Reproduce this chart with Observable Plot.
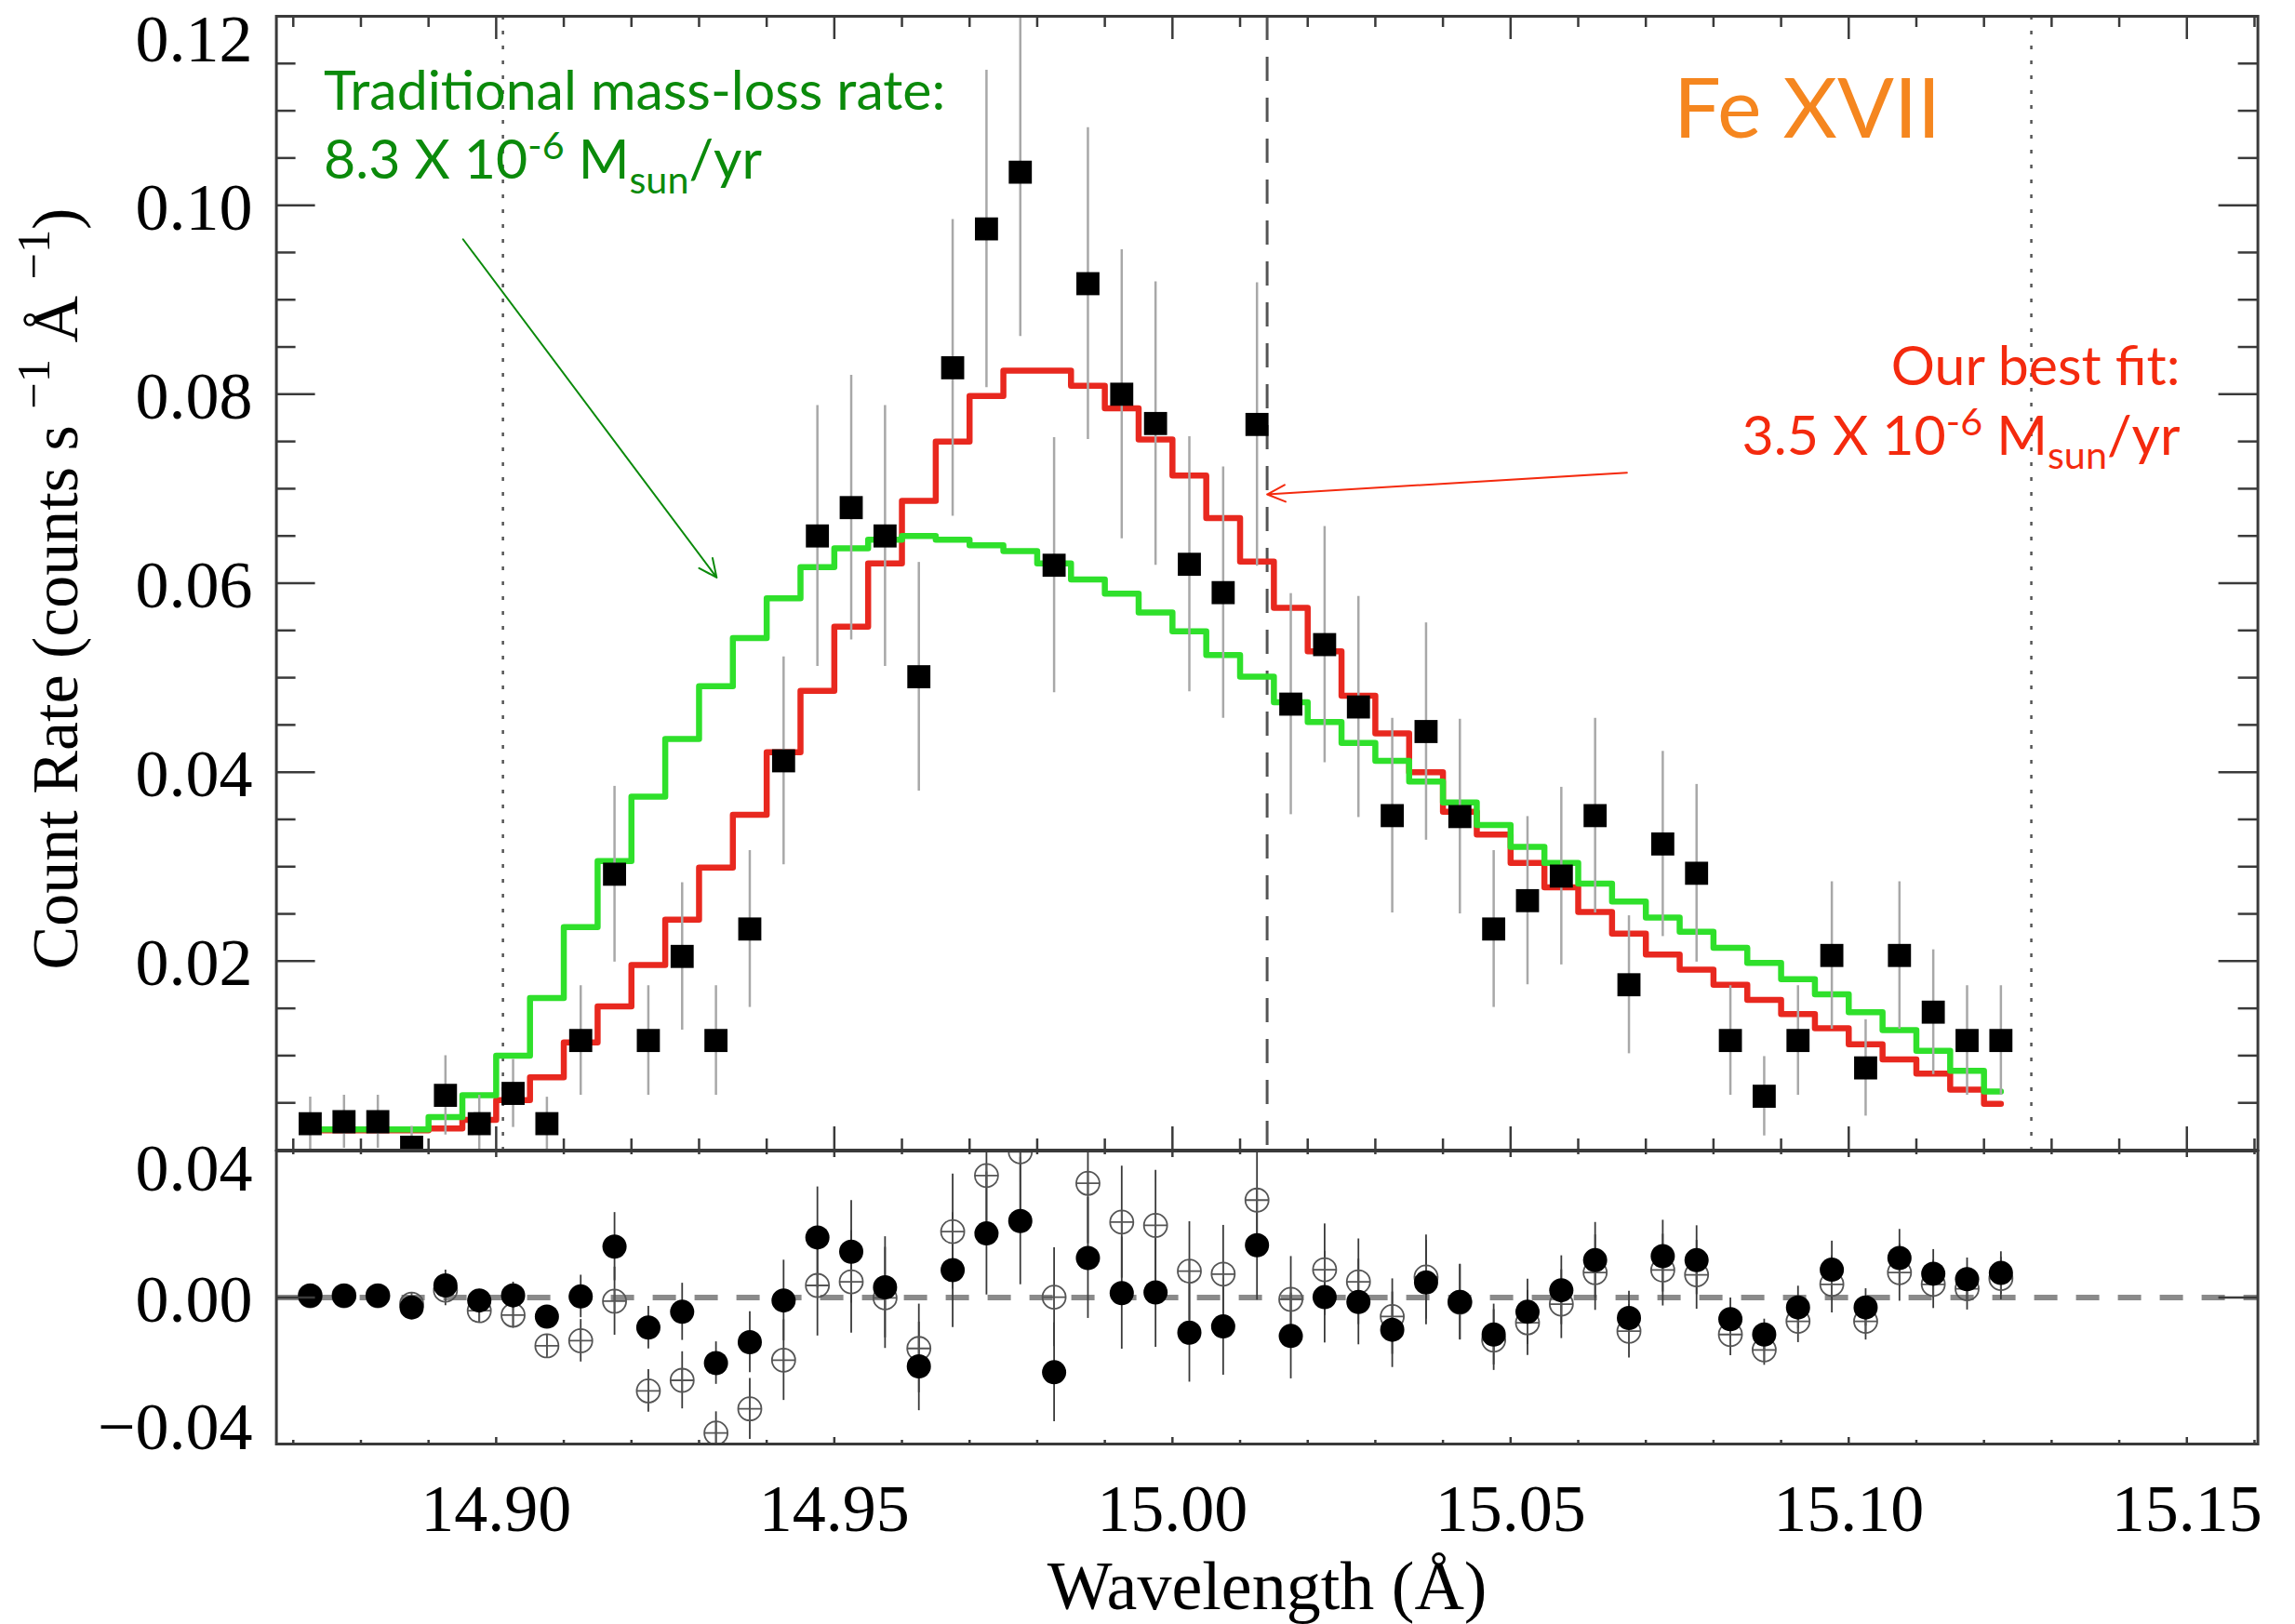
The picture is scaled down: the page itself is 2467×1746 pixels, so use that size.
<!DOCTYPE html>
<html>
<head>
<meta charset="utf-8">
<script src="https://cdn.jsdelivr.net/npm/d3@7"></script>
<script src="https://cdn.jsdelivr.net/npm/@observablehq/plot@0.6"></script>
<style>
  html, body { margin: 0; padding: 0; background: #fff; }
  #wrap { position: relative; width: 2467px; height: 1746px; overflow: hidden; background: #fff; }
  #top, #bottom { position: absolute; left: 0; }
  #top { top: 0; }
  #bottom { top: 1236px; }
</style>
</head>
<body>
<div id="wrap"><div id="top"></div><div id="bottom"></div></div>
<script>
// ---------------- DATA ----------------
const wavelength = [14.8725, 14.8775, 14.8825, 14.8875, 14.8925, 14.8975, 14.9025, 14.9075, 14.9125, 14.9175,
  14.9225, 14.9275, 14.9325, 14.9375, 14.9425, 14.9475, 14.9525, 14.9575, 14.9625, 14.9675,
  14.9725, 14.9775, 14.9825, 14.9875, 14.9925, 14.9975, 15.0025, 15.0075, 15.0125, 15.0175,
  15.0225, 15.0275, 15.0325, 15.0375, 15.0425, 15.0475, 15.0525, 15.0575, 15.0625, 15.0675,
  15.0725, 15.0775, 15.0825, 15.0875, 15.0925, 15.0975, 15.1025, 15.1075, 15.1125, 15.1175, 15.1225];

const countRate = [0.0028, 0.0030, 0.0030, 0.0003, 0.0058, 0.0028, 0.0060, 0.0028, 0.0116, 0.0292,
  0.0116, 0.0205, 0.0116, 0.0234, 0.0412, 0.0650, 0.0680, 0.0650, 0.0501, 0.0828,
  0.0975, 0.1035, 0.0619, 0.0917, 0.0800, 0.0769, 0.0620, 0.0590, 0.0768, 0.0472,
  0.0535, 0.0469, 0.0354, 0.0443, 0.0353, 0.0234, 0.0264, 0.0290, 0.0354, 0.0175,
  0.0324, 0.0293, 0.0116, 0.0057, 0.0116, 0.0206, 0.0087, 0.0206, 0.0146, 0.0116, 0.0116];

const countErr = [0.0028, 0.0028, 0.0028, 0.0022, 0.0042, 0.0030, 0.0036, 0.0028, 0.0058, 0.0093,
  0.0058, 0.0078, 0.0058, 0.0083, 0.0110, 0.0138, 0.0140, 0.0138, 0.0121, 0.0157,
  0.0168, 0.0174, 0.0135, 0.0165, 0.0153, 0.0150, 0.0135, 0.0133, 0.0150, 0.0117,
  0.0125, 0.0117, 0.0103, 0.0115, 0.0103, 0.0083, 0.0089, 0.0094, 0.0103, 0.0073,
  0.0098, 0.0094, 0.0058, 0.0042, 0.0058, 0.0078, 0.0051, 0.0078, 0.0066, 0.0058, 0.0058];

// red: our best fit (3.5e-6 Msun/yr)
const modelBestFit = [0.0021, 0.0021, 0.0021, 0.0021, 0.0023, 0.0032, 0.0053, 0.0077, 0.0114, 0.0152,
  0.0196, 0.0244, 0.0299, 0.0355, 0.0421, 0.0486, 0.0554, 0.0621, 0.0687, 0.0750,
  0.0798, 0.0825, 0.0825, 0.0809, 0.0785, 0.0752, 0.0714, 0.0669, 0.0623, 0.0574,
  0.0528, 0.0481, 0.0441, 0.0400, 0.0358, 0.0334, 0.0304, 0.0278, 0.0252, 0.0229,
  0.0207, 0.0191, 0.0175, 0.0159, 0.0144, 0.0129, 0.0112, 0.0096, 0.0081, 0.0064, 0.0049];

// green: traditional mass-loss rate (8.3e-6 Msun/yr)
const modelTraditional = [0.0022, 0.0022, 0.0022, 0.0022, 0.0035, 0.0058, 0.0100, 0.0161, 0.0236, 0.0306,
  0.0374, 0.0435, 0.0491, 0.0542, 0.0584, 0.0617, 0.0637, 0.0646, 0.0650, 0.0646,
  0.0640, 0.0634, 0.0621, 0.0604, 0.0589, 0.0569, 0.0549, 0.0524, 0.0501, 0.0474,
  0.0453, 0.0431, 0.0412, 0.0390, 0.0368, 0.0344, 0.0321, 0.0304, 0.0282, 0.0263,
  0.0246, 0.0231, 0.0214, 0.0198, 0.0181, 0.0165, 0.0146, 0.0127, 0.0105, 0.0084, 0.0062];

// residuals (filled = best fit, open = traditional)
const residBestFit = [0.0005, 0.0005, 0.0005, -0.0027, 0.0033, -0.0008, 0.0006, -0.0052, 0.0003, 0.0139,
  -0.0082, -0.0039, -0.0179, -0.0122, -0.0008, 0.0164, 0.0125, 0.0028, -0.0188, 0.0075,
  0.0175, 0.0209, -0.0204, 0.0108, 0.0012, 0.0014, -0.0096, -0.0079, 0.0143, -0.0105,
  0.0001, -0.0012, -0.0088, 0.0041, -0.0012, -0.0101, -0.0039, 0.0020, 0.0102, -0.0056,
  0.0113, 0.0102, -0.0059, -0.0101, -0.0027, 0.0076, -0.0027, 0.0108, 0.0065, 0.0050, 0.0067];

const residTraditional = [0.0005, 0.0005, 0.0005, -0.0018, 0.0020, -0.0036, -0.0048, -0.0132, -0.0118, -0.0010,
  -0.0255, -0.0226, -0.0370, -0.0304, -0.0171, 0.0033, 0.0043, -0.0001, -0.0139, 0.0180,
  0.0333, 0.0398, 0.0001, 0.0312, 0.0206, 0.0197, 0.0072, 0.0064, 0.0266, -0.0005,
  0.0076, 0.0043, -0.0052, 0.0056, -0.0013, -0.0116, -0.0069, -0.0018, 0.0068, -0.0092,
  0.0075, 0.0062, -0.0101, -0.0143, -0.0065, 0.0036, -0.0065, 0.0068, 0.0036, 0.0024, 0.0052];

// axes
const xDomain = [14.8675, 15.1605];
const xMajorTicks = [14.90, 14.95, 15.00, 15.05, 15.10, 15.15];
const xTickLabels = ["14.90", "14.95", "15.00", "15.05", "15.10", "15.15"];
const xMinorTicks = [14.87, 14.88, 14.89, 14.91, 14.92, 14.93, 14.94, 14.96, 14.97, 14.98, 14.99,
  15.01, 15.02, 15.03, 15.04, 15.06, 15.07, 15.08, 15.09, 15.11, 15.12, 15.13, 15.14, 15.16];
const yTopMajor = [0, 0.02, 0.04, 0.06, 0.08, 0.10, 0.12];
const yTopMinor = [0.005, 0.01, 0.015, 0.025, 0.03, 0.035, 0.045, 0.05, 0.055, 0.065, 0.07, 0.075,
  0.085, 0.09, 0.095, 0.105, 0.11, 0.115];
const yTopLabelValues = [0.02, 0.04, 0.06, 0.08, 0.10, 0.12];
const yTopLabels = ["0.02", "0.04", "0.06", "0.08", "0.10", "0.12"];
const yBotTicks = [-0.04, 0, 0.04];
const yBotLabels = ["\u22120.04", "0.00", "0.04"];

const dottedLines = [14.901, 15.127];
const restWavelength = [15.014];

// annotations
const annotations = [
  {x: 14.8745, y: 0.1101, text: "Traditional mass-loss rate:", color: "#0b8a0b", size: 59, anchor: "start"},
  {x: 14.8745, y: 0.1028, text: "8.3 X 10-6 Msun/yr", color: "#0b8a0b", size: 59, anchor: "start"},
  {x: 15.0741, y: 0.1072, text: "Fe XVII", color: "#f5861f", size: 90, anchor: "start"},
  {x: 15.1490, y: 0.0810, text: "Our best fit:", color: "#f42a0e", size: 59, anchor: "end"},
  {x: 15.1490, y: 0.0736, text: "3.5 X 10-6 Msun/yr", color: "#f42a0e", size: 59, anchor: "end"}
];
const arrowsGreen = [{x1: 14.8951, y1: 0.0964, x2: 14.9326, y2: 0.0606}];
const arrowsRed = [{x1: 15.0672, y1: 0.0717, x2: 15.0140, y2: 0.0694}];

const yTitle = "Count Rate (counts s-1 \u00C5-1)";
const xTitle = "Wavelength (\u00C5)";

// ---------------- LAYOUT ----------------
const RED = "#e8281f", GREEN = "#2fe02b";
const W = 2467, ML = 296.6, MR = 40.4;
const TOP_H = 1237, TOP_MT = 17, TOP_MB = 1;
const BOT_H = 510, BOT_MT = 1, BOT_MB = 194;
const topInnerH = TOP_H - TOP_MT - TOP_MB;
const botInnerH = BOT_H - BOT_MT - BOT_MB;
const innerW = W - ML - MR;
const serif = "Liberation Serif, Times New Roman, serif";
const sans = "Lato, Open Sans, sans-serif";
const AX = "#3a3a3a";

const rows = wavelength.map((w, i) => ({
  w, rate: countRate[i], err: countErr[i], red: modelBestFit[i], green: modelTraditional[i],
  rb: residBestFit[i], rt: residTraditional[i]
}));

function xTicks(vals, len, innerH, sw) {
  return [
    Plot.tickX(vals, {x: d => d, insetTop: innerH - len, stroke: AX, strokeWidth: sw}),
    Plot.tickX(vals, {x: d => d, insetBottom: innerH - len, stroke: AX, strokeWidth: sw})
  ];
}
function yTicks(vals, len, sw) {
  return [
    Plot.tickY(vals, {y: d => d, insetRight: innerW - len, stroke: AX, strokeWidth: sw}),
    Plot.tickY(vals, {y: d => d, insetLeft: innerW - len, stroke: AX, strokeWidth: sw})
  ];
}

const circlePlus = {
  draw(ctx, size) {
    const r = Math.sqrt(size / Math.PI);
    ctx.moveTo(r, 0);
    ctx.arc(0, 0, r, 0, 2 * Math.PI);
    ctx.moveTo(-r, 0); ctx.lineTo(r, 0);
    ctx.moveTo(0, -r); ctx.lineTo(0, r);
  }
};

// ---------------- TOP PANEL ----------------
const topPlot = Plot.plot({
  width: W, height: TOP_H,
  marginLeft: ML, marginRight: MR, marginTop: TOP_MT, marginBottom: TOP_MB,
  x: {domain: xDomain, axis: null},
  y: {domain: [0, 0.12], axis: null},
  style: {background: "transparent", overflow: "visible"},
  marks: [
    Plot.ruleX(dottedLines, {stroke: "#555", strokeWidth: 2.5, strokeDasharray: "4,12"}),
    Plot.ruleX(restWavelength, {stroke: "#555", strokeWidth: 3, strokeDasharray: "26,18"}),
    Plot.line(rows, {x: "w", y: "red", curve: "step", stroke: RED, strokeWidth: 6.5}),
    Plot.line(rows, {x: "w", y: "green", curve: "step", stroke: GREEN, strokeWidth: 6.5}),
    Plot.ruleX(rows, {x: "w", y1: d => d.rate - d.err, y2: d => d.rate + d.err, stroke: "#a8a8a8", strokeWidth: 2.5, clip: true}),
    Plot.dot(rows, {x: "w", y: "rate", symbol: "square", r: 14, fill: "black", stroke: "none", clip: true}),
    ...xTicks(xMajorTicks, 25, topInnerH, 2.5),
    ...xTicks(xMinorTicks, 12, topInnerH, 2.5),
    ...yTicks(yTopMajor, 42, 2.5),
    ...yTicks(yTopMinor, 21, 2.5),
    Plot.frame({stroke: AX, strokeWidth: 3}),
    Plot.text(yTopLabelValues.slice(0, 5), {y: d => d, text: (d, i) => yTopLabels[i], frameAnchor: "left", lineAnchor: "middle", dx: -25.6, dy: 3, textAnchor: "end", fontSize: 72, fontFamily: serif, fill: "black"}),
    Plot.text(yTopLabelValues.slice(5), {y: d => d, text: (d, i) => yTopLabels[5 + i], frameAnchor: "left", lineAnchor: "middle", dx: -25.6, dy: 25, textAnchor: "end", fontSize: 72, fontFamily: serif, fill: "black"}),
    Plot.text([yTitle], {frameAnchor: "left", textAnchor: "middle", lineAnchor: "middle", rotate: -90, dx: -237, dy: 6, fontSize: 70, fontFamily: serif, fill: "black"}),
    Plot.arrow(arrowsGreen, {x1: "x1", y1: "y1", x2: "x2", y2: "y2", stroke: "#0b8a0b", strokeWidth: 2, headLength: 16, headAngle: 50}),
    Plot.arrow(arrowsRed, {x1: "x1", y1: "y1", x2: "x2", y2: "y2", stroke: "#f42a0e", strokeWidth: 2, headLength: 16, headAngle: 50}),
    ...annotations.map(a => Plot.text([a], {x: "x", y: "y", text: "text", fill: a.color, fontSize: a.size, fontFamily: sans, textAnchor: a.anchor, lineAnchor: "bottom"}))
  ]
});
document.getElementById("top").appendChild(topPlot);

// ---------------- BOTTOM PANEL (residuals) ----------------
const botPlot = Plot.plot({
  width: W, height: BOT_H,
  marginLeft: ML, marginRight: MR, marginTop: BOT_MT, marginBottom: BOT_MB,
  x: {domain: xDomain, axis: null},
  y: {domain: [-0.04, 0.04], axis: null},
  style: {background: "transparent", overflow: "visible"},
  marks: [
    Plot.ruleY([0], {stroke: "#8a8a8a", strokeWidth: 6, strokeDasharray: "25,20"}),
    Plot.ruleX(rows, {x: "w", y1: d => d.rt - d.err, y2: d => d.rt + d.err, stroke: "#3a3a3a", strokeWidth: 1.8, clip: true}),
    Plot.ruleX(rows, {x: "w", y1: d => d.rb - d.err, y2: d => d.rb + d.err, stroke: "#3a3a3a", strokeWidth: 1.8, clip: true}),
    Plot.dot(rows, {x: "w", y: "rt", symbol: circlePlus, r: 12.5, fill: "none", stroke: "#555", strokeWidth: 1.8, clip: true}),
    Plot.dot(rows, {x: "w", y: "rb", r: 13, fill: "black", stroke: "none", clip: true}),
    ...xTicks(xMajorTicks, 7, botInnerH, 2.5),
    ...xTicks(xMinorTicks, 4, botInnerH, 2.5),
    ...yTicks(yBotTicks, 42, 2.5),
    Plot.frame({stroke: AX, strokeWidth: 3}),
    Plot.text([yBotTicks[0]], {y: d => d, text: () => yBotLabels[0], frameAnchor: "left", lineAnchor: "middle", dx: -25.6, dy: -18, textAnchor: "end", fontSize: 72, fontFamily: serif, fill: "black"}),
    Plot.text([yBotTicks[1]], {y: d => d, text: () => yBotLabels[1], frameAnchor: "left", lineAnchor: "middle", dx: -25.6, dy: 3, textAnchor: "end", fontSize: 72, fontFamily: serif, fill: "black"}),
    Plot.text([yBotTicks[2]], {y: d => d, text: () => yBotLabels[2], frameAnchor: "left", lineAnchor: "middle", dx: -25.6, dy: 19, textAnchor: "end", fontSize: 72, fontFamily: serif, fill: "black"}),
    Plot.text(xMajorTicks, {x: d => d, text: (d, i) => xTickLabels[i], frameAnchor: "bottom", lineAnchor: "middle", dy: 70, fontSize: 72, fontFamily: serif, fill: "black"}),
    Plot.text([xTitle], {frameAnchor: "bottom", lineAnchor: "middle", dy: 154, fontSize: 74, fontFamily: serif, fill: "black"})
  ]
});
document.getElementById("bottom").appendChild(botPlot);

// ---------------- rich text (super/subscripts) ----------------
function richify(svg, plain, parts, base, supRaise = 0.36, subDrop = 0.26, scale = 0.7) {
  svg.querySelectorAll("text").forEach(el => {
    if (el.textContent !== plain) return;
    while (el.firstChild) el.removeChild(el.firstChild);
    let offset = 0;
    for (const [t, kind] of parts) {
      const ts = document.createElementNS("http://www.w3.org/2000/svg", "tspan");
      ts.textContent = t;
      let target = 0;
      if (kind === "sup") { ts.setAttribute("font-size", base * scale); target = -supRaise * base; }
      else if (kind === "sub") { ts.setAttribute("font-size", base * scale); target = subDrop * base; }
      const d = target - offset;
      if (d) ts.setAttribute("dy", d);
      offset = target;
      el.appendChild(ts);
    }
  });
}
richify(topPlot, "8.3 X 10-6 Msun/yr", [["8.3 X 10"], ["-6", "sup"], [" M"], ["sun", "sub"], ["/yr"]], 59);
richify(topPlot, "3.5 X 10-6 Msun/yr", [["3.5 X 10"], ["-6", "sup"], [" M"], ["sun", "sub"], ["/yr"]], 59);
richify(topPlot, yTitle, [["Count Rate (counts s "], ["\u22121", "sup"], [" \u00C5 "], ["\u22121", "sup"], [")"]], 70, 0.42, 0.26, 0.72);
</script>
</body>
</html>
